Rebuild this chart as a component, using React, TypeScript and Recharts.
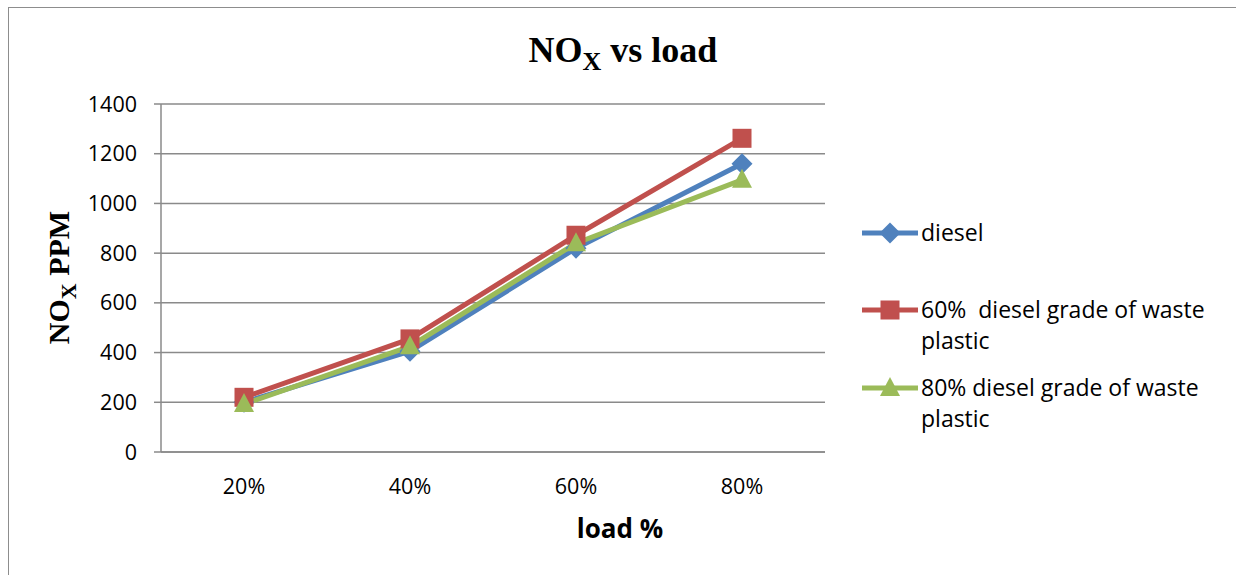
import React from 'react';
import { LineChart, Line, XAxis, YAxis, CartesianGrid, Legend } from 'recharts';

const categories = ['20%', '40%', '60%', '80%'];
const dieselValues = [200, 405, 820, 1160];
const plastic60Values = [220, 455, 872, 1262];
const plastic80Values = [193, 425, 840, 1095];
const yTicks = [0, 200, 400, 600, 800, 1000, 1200, 1400];

const series = [
  { key: 'diesel', name: 'diesel', color: '#4F81BD', shape: 'diamond', labelLines: ['diesel'] },
  { key: 'p60', name: '60%  diesel grade of waste plastic', color: '#C0504D', shape: 'square', labelLines: ['60%  diesel grade of waste', 'plastic'] },
  { key: 'p80', name: '80% diesel grade of waste plastic', color: '#9BBB59', shape: 'triangle', labelLines: ['80% diesel grade of waste', 'plastic'] },
];

const chartData = categories.map((load, i) => ({
  load,
  diesel: dieselValues[i],
  p60: plastic60Values[i],
  p80: plastic80Values[i],
}));

const SANS = '"Open Sans", sans-serif';
const SERIF = '"Liberation Serif", "Times New Roman", serif';
const GRID = '#8a8a8a';

const Marker = ({ cx, cy, shape, color }: any) => {
  if (cx == null || cy == null) return null;
  if (shape === 'square') {
    return <rect x={cx - 9.5} y={cy - 9.5} width={19} height={19} fill={color} />;
  }
  if (shape === 'triangle') {
    return <polygon points={`${cx},${cy - 11} ${cx + 10},${cy + 8} ${cx - 10},${cy + 8}`} fill={color} />;
  }
  return <polygon points={`${cx},${cy - 10.5} ${cx + 10.5},${cy} ${cx},${cy + 10.5} ${cx - 10.5},${cy}`} fill={color} />;
};

// legend rows: y of the line sample inside the legend box
const legendRows = [33, 110, 188];

const LegendContent = () => (
  <svg width={380} height={240} style={{ overflow: 'visible' }}>
    {series.map((s, i) => {
      const y = legendRows[i];
      return (
        <g key={s.key}>
          <line x1={7} x2={63} y1={y} y2={y} stroke={s.color} strokeWidth={5} />
          <Marker cx={35} cy={y} shape={s.shape} color={s.color} />
          {s.labelLines.map((t, j) => (
            <text key={j} x={66} y={y + 8 + j * 31} fontFamily={SANS} fontSize={23} fill="#000" style={{ whiteSpace: 'pre' }}>
              {t}
            </text>
          ))}
        </g>
      );
    })}
  </svg>
);

const App: React.FC = () => {
  return (
    <div
      style={{
        position: 'absolute',
        left: 8,
        top: 7,
        width: 1228,
        height: 568,
        borderTop: '1px solid #8d8d8d',
        borderLeft: '1px solid #8d8d8d',
        boxSizing: 'border-box',
        background: '#fff',
      }}
    >
      <LineChart width={1227} height={567} data={chartData} margin={{ top: 96, right: 411, left: 0, bottom: 63 }}>
        <CartesianGrid horizontal vertical={false} stroke={GRID} strokeWidth={1.5} />
        <XAxis
          dataKey="load"
          height={60}
          padding={{ left: 83, right: 83 }}
          axisLine={{ stroke: GRID, strokeWidth: 1.5 }}
          tickLine={false}
          tickSize={0}
          tickMargin={27}
          tick={{ fill: '#000', fontFamily: SANS, fontSize: 21.5 }}
        />
        <YAxis
          width={152}
          domain={[0, 1400]}
          ticks={yTicks}
          interval={0}
          axisLine={{ stroke: GRID, strokeWidth: 1.5 }}
          tickLine={{ stroke: GRID, strokeWidth: 1.5 }}
          tickSize={7}
          tickMargin={17}
          tick={{ fill: '#000', fontFamily: SANS, fontSize: 21.5 }}
        />
        <Legend
          layout="horizontal"
          verticalAlign="middle"
          align="center"
          content={LegendContent}
          wrapperStyle={{ left: 846, top: 192, width: 380, height: 240 }}
        />
        {series.map((s) => (
          <Line
            key={s.key}
            dataKey={s.key}
            name={s.name}
            type="linear"
            stroke={s.color}
            strokeWidth={5}
            isAnimationActive={false}
            dot={(p: any) => <Marker key={`${s.key}-${p.index}`} cx={p.cx} cy={p.cy} shape={s.shape} color={s.color} />}
            activeDot={false}
          />
        ))}
        <text x={614} y={54} textAnchor="middle" fontFamily={SERIF} fontWeight="bold" fontSize={36} fill="#000">
          NO<tspan fontSize={26} dy={8}>X</tspan>
          <tspan dy={-8}> vs load</tspan>
        </text>
        <text
          x={60}
          y={269.5}
          transform="rotate(-90, 60, 269.5)"
          textAnchor="middle"
          fontFamily={SERIF}
          fontWeight="bold"
          fontSize={30}
          fill="#000"
        >
          NO<tspan fontSize={22} dy={7}>X</tspan>
          <tspan dy={-7}> PPM</tspan>
        </text>
        <text x={611} y={530} textAnchor="middle" fontFamily={SANS} fontWeight="bold" fontSize={26} fill="#000">
          load %
        </text>
      </LineChart>
    </div>
  );
};

export default App;
